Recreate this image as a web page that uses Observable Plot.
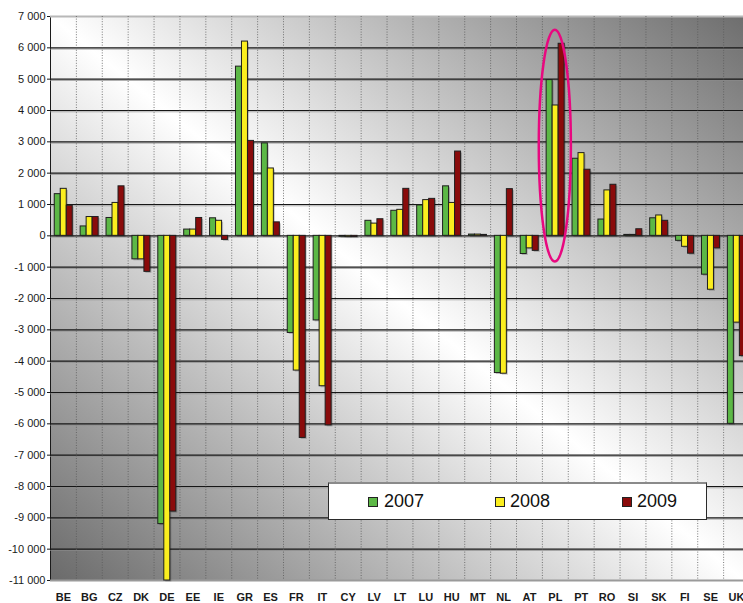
<!DOCTYPE html>
<html>
<head>
<meta charset="utf-8">
<script src="https://cdn.jsdelivr.net/npm/d3@7"></script>
<script src="https://cdn.jsdelivr.net/npm/@observablehq/plot@0.6"></script>
<style>
  html, body { margin: 0; padding: 0; background: #fff; }
  #wrap { position: relative; width: 743px; height: 603px; overflow: hidden; }
  #wrap svg g[aria-label^="x-axis"] text { font-weight: bold; font-size: 11px; }
  #legend {
    position: absolute; left: 328px; top: 482px; width: 379px; height: 38px;
    box-sizing: border-box; background: #fff; border: 1px solid #2a2a2a;
    border-top: 2px solid #8a8a8a;
    font-family: Arial, "Liberation Sans", sans-serif; font-size: 18px; color: #111;
  }
  #legend .sw { position: absolute; top: 13px; width: 10px; height: 10px; box-sizing: border-box; border: 1px solid #222; }
  #legend .lb { position: absolute; top: 7px; line-height: 20px; }
</style>
</head>
<body>
<div id="wrap"></div>
<script>
// ---- data ----
const countries = ["BE","BG","CZ","DK","DE","EE","IE","GR","ES","FR","IT","CY","LV","LT","LU","HU","MT","NL","AT","PL","PT","RO","SI","SK","FI","SE","UK"];
const years = ["2007","2008","2009"];
const v2007 = [1330, 300, 570, -750, -9200, 200, 560, 5400, 2950, -3100, -2700, -30, 480, 800, 970, 1580, 40, -4380, -580, 4970, 2460, 520, 30, 560, -160, -1240, -6000];
const v2008 = [1500, 600, 1050, -750, -11000, 200, 480, 6200, 2150, -4300, -4800, -40, 390, 830, 1140, 1050, 40, -4400, -400, 4160, 2640, 1450, 30, 650, -350, -1720, -2770];
const v2009 = [960, 600, 1580, -1150, -8800, 570, -130, 3030, 430, -6450, -6050, -40, 530, 1500, 1180, 2690, 30, 1490, -480, 6130, 2110, 1630, 210, 480, -570, -400, -3840];
const yTicks = d3.range(-11000, 7001, 1000);
const highlight = "PL";
const highlightSpan = [-835, 6560];

const colors = ["#5cb846", "#fbee1f", "#8a0b0b"];
const series = [v2007, v2008, v2009];
const data = countries.flatMap((c, i) => years.map((y, j) => ({country: c, year: y, value: series[j][i]})));

// ---- layout ----
const W = 743, H = 603, left = 50, xRight = 749;
const bw = (xRight - left) / countries.length;
const barW = 6;
const g0 = (bw - 3 * barW) / 2 + 0.3;

const fmt = d => (d < 0 ? "-" : "") + String(Math.abs(d)).replace(/\B(?=(\d{3})+(?!\d))/g, " ");

const barMarks = years.flatMap((yr, j) => {
  const il = g0 + j * barW, ir = bw - il - barW;
  const sub = data.filter(d => d.year === yr);
  return [
    Plot.barY(sub, {x: "country", y: "value", fill: "#000", fillOpacity: 0.2, insetLeft: il, insetRight: ir, dx: 1.5, dy: 1.5}),
    Plot.barY(sub, {x: "country", y: "value", fill: "year", stroke: "#1e1e1e", strokeWidth: 1, insetLeft: il, insetRight: ir})
  ];
});

const gridVals = yTicks.filter(v => v > -11000 && v < 7000);

const plot = Plot.plot({
  width: W, height: H,
  marginLeft: left, marginRight: 0, marginTop: 16, marginBottom: 23,
  style: {fontFamily: "Arial, 'Liberation Sans', sans-serif", fontSize: "11px", color: "#1a1a1a", background: "transparent"},
  x: {type: "band", domain: countries, range: [left, xRight], padding: 0, round: false, tickSize: 0, tickPadding: 13, label: null},
  y: {domain: [-11000, 7000], ticks: yTicks, tickFormat: fmt, tickSize: 3, tickPadding: 2, label: null, line: true},
  color: {domain: years, range: colors},
  marks: [
    Plot.ruleY(gridVals, {stroke: "#8c8c8c", strokeOpacity: 0.7, strokeWidth: 1, dy: 1.3}),
    Plot.ruleY(gridVals, {stroke: "#161616", strokeWidth: 1.1}),
    Plot.ruleY([7000], {stroke: "#b8b8b8", strokeWidth: 2}),
    Plot.ruleY([-11000], {stroke: "#9a9a9a", strokeWidth: 2}),
    Plot.ruleX(countries.slice(1), {x: d => d, dx: -bw / 2, stroke: "#5a5a5a", strokeOpacity: 0.8, strokeDasharray: "1,1.6", strokeWidth: 1}),
    ...barMarks
  ]
});

const xs = plot.scale("x"), ys = plot.scale("y");
const SVGNS = "http://www.w3.org/2000/svg";

// background gradient behind the plot area
const defs = document.createElementNS(SVGNS, "defs");
const lg = document.createElementNS(SVGNS, "linearGradient");
lg.setAttribute("id", "bggrad");
lg.setAttribute("x1", "0"); lg.setAttribute("y1", "1"); lg.setAttribute("x2", "1"); lg.setAttribute("y2", "0");
[["0", "#6a6a6a"], ["0.5", "#ffffff"], ["1", "#6e6e6e"]].forEach(([o, c]) => {
  const s = document.createElementNS(SVGNS, "stop");
  s.setAttribute("offset", o); s.setAttribute("stop-color", c);
  lg.appendChild(s);
});
defs.appendChild(lg);
const bg = document.createElementNS(SVGNS, "rect");
const yT = ys.apply(7000), yB = ys.apply(-11000);
bg.setAttribute("x", left); bg.setAttribute("y", yT);
bg.setAttribute("width", W - left); bg.setAttribute("height", yB - yT);
bg.setAttribute("fill", "url(#bggrad)");
let firstMark = plot.querySelector(":scope > g");
plot.insertBefore(defs, plot.firstChild);
plot.insertBefore(bg, defs.nextSibling);

// highlight ellipse
const cx = xs.apply(highlight) + (xs.bandwidth || bw) / 2;
const eTop = ys.apply(highlightSpan[1]), eBot = ys.apply(highlightSpan[0]);
const el = document.createElementNS(SVGNS, "ellipse");
el.setAttribute("cx", cx); el.setAttribute("cy", (eTop + eBot) / 2);
el.setAttribute("rx", bw * 0.62); el.setAttribute("ry", (eBot - eTop) / 2);
el.setAttribute("fill", "none"); el.setAttribute("stroke", "#e8087f"); el.setAttribute("stroke-width", "2.5");
plot.appendChild(el);

const wrap = document.getElementById("wrap");
wrap.appendChild(plot);

// legend
const leg = document.createElement("div");
leg.id = "legend";
const pos = [[39, 55], [166, 181], [293, 308]];
years.forEach((y, j) => {
  const s = document.createElement("div");
  s.className = "sw"; s.style.left = pos[j][0] + "px"; s.style.background = colors[j];
  const t = document.createElement("div");
  t.className = "lb"; t.style.left = pos[j][1] + "px"; t.textContent = y;
  leg.appendChild(s); leg.appendChild(t);
});
wrap.appendChild(leg);
</script>
</body>
</html>
